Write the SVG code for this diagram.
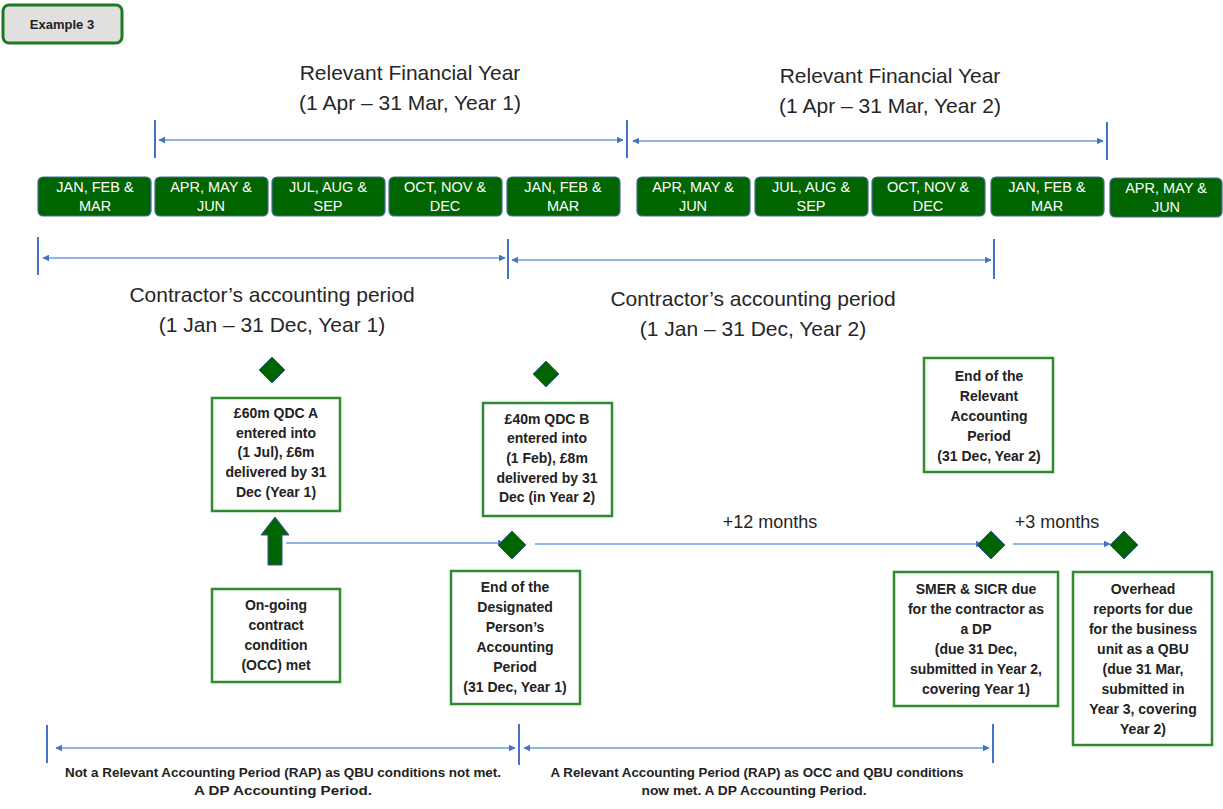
<svg xmlns="http://www.w3.org/2000/svg" width="1223" height="809" viewBox="0 0 1223 809">
<style>
  .title{font-family:"Liberation Sans",Arial,sans-serif;font-size:21px;fill:#262626;text-anchor:middle}
  .mon{font-family:"Liberation Sans",Arial,sans-serif;font-size:14.5px;fill:#fff;text-anchor:middle}
  .mbox{fill:#006400;stroke:#4a6a9a;stroke-width:1.2}
  .box{fill:#fff;stroke:#2e8b2e;stroke-width:2.5}
  .bt{font-family:"Liberation Sans",Arial,sans-serif;font-size:14px;font-weight:bold;fill:#222;text-anchor:middle}
  .dia{fill:#006400;stroke:#3a5f9a;stroke-width:1}
  .ln{stroke:#6f9be0;stroke-width:1.6;fill:none}
  .tick{stroke:#4472c4;stroke-width:2;fill:none}
  .small{font-family:"Liberation Sans",Arial,sans-serif;font-size:12px;font-weight:bold;fill:#222;text-anchor:middle}
  .lbl{font-family:"Liberation Sans",Arial,sans-serif;font-size:18px;fill:#262626;text-anchor:middle}
</style>
<defs>
  <marker id="ah" viewBox="0 0 10 10" refX="9" refY="5" markerWidth="7" markerHeight="7" orient="auto-start-reverse" markerUnits="userSpaceOnUse">
    <path d="M0,0 L10,5 L0,10 z" fill="#4472c4"/>
  </marker>
</defs>
<rect width="1223" height="809" fill="#fff"/>

<g id="example3">
  <rect x="3" y="5" width="119" height="38" rx="6" fill="#e0e0e0" stroke="#1e7a1e" stroke-width="3"/>
  <text x="62" y="29" font-family="Liberation Sans, Arial, sans-serif" font-size="13" font-weight="bold" fill="#222" text-anchor="middle">Example 3</text>
</g>

<g id="rfy1">
  <text class="title" x="410" y="80">Relevant Financial Year</text>
  <text class="title" x="410" y="110">(1 Apr – 31 Mar, Year 1)</text>
</g>
<g id="rfy2">
  <text class="title" x="890" y="83">Relevant Financial Year</text>
  <text class="title" x="890" y="113">(1 Apr – 31 Mar, Year 2)</text>
</g>

<g id="months">
  <g id="m1"><rect class="mbox" x="38" y="177" width="113" height="39" rx="5"/><text class="mon" x="95" y="192">JAN, FEB &amp;</text><text class="mon" x="95" y="211">MAR</text></g>
  <g id="m2"><rect class="mbox" x="155" y="177" width="113" height="39" rx="5"/><text class="mon" x="211" y="192">APR, MAY &amp;</text><text class="mon" x="211" y="211">JUN</text></g>
  <g id="m3"><rect class="mbox" x="272" y="177" width="113" height="39" rx="5"/><text class="mon" x="328" y="192">JUL, AUG &amp;</text><text class="mon" x="328" y="211">SEP</text></g>
  <g id="m4"><rect class="mbox" x="389" y="177" width="113" height="39" rx="5"/><text class="mon" x="445" y="192">OCT, NOV &amp;</text><text class="mon" x="445" y="211">DEC</text></g>
  <g id="m5"><rect class="mbox" x="507" y="177" width="113" height="39" rx="5"/><text class="mon" x="563" y="192">JAN, FEB &amp;</text><text class="mon" x="563" y="211">MAR</text></g>
  <g id="m6"><rect class="mbox" x="637" y="177" width="113" height="39" rx="5"/><text class="mon" x="693" y="192">APR, MAY &amp;</text><text class="mon" x="693" y="211">JUN</text></g>
  <g id="m7"><rect class="mbox" x="755" y="177" width="113" height="39" rx="5"/><text class="mon" x="811" y="192">JUL, AUG &amp;</text><text class="mon" x="811" y="211">SEP</text></g>
  <g id="m8"><rect class="mbox" x="872" y="177" width="113" height="39" rx="5"/><text class="mon" x="928" y="192">OCT, NOV &amp;</text><text class="mon" x="928" y="211">DEC</text></g>
  <g id="m9"><rect class="mbox" x="991" y="177" width="113" height="39" rx="5"/><text class="mon" x="1047" y="192">JAN, FEB &amp;</text><text class="mon" x="1047" y="211">MAR</text></g>
  <g id="m10"><rect class="mbox" x="1110" y="178" width="112" height="39" rx="5"/><text class="mon" x="1166" y="193">APR, MAY &amp;</text><text class="mon" x="1166" y="212">JUN</text></g>
</g>

<g id="cap1">
  <text class="title" x="272" y="302">Contractor’s accounting period</text>
  <text class="title" x="272" y="332">(1 Jan – 31 Dec, Year 1)</text>
</g>
<g id="cap2">
  <text class="title" x="753" y="306">Contractor’s accounting period</text>
  <text class="title" x="753" y="336">(1 Jan – 31 Dec, Year 2)</text>
</g>

<g id="connectors">
  <line class="tick" x1="155" y1="120" x2="155" y2="158"/>
  <line class="ln" x1="159" y1="140" x2="623" y2="140" marker-start="url(#ah)" marker-end="url(#ah)"/>
  <line class="tick" x1="627" y1="120" x2="627" y2="158"/>
  <line class="ln" x1="633" y1="141" x2="1103" y2="141" marker-start="url(#ah)" marker-end="url(#ah)"/>
  <line class="tick" x1="1107" y1="122" x2="1107" y2="160"/>
  <line class="tick" x1="38" y1="237" x2="38" y2="275"/>
  <line class="ln" x1="43" y1="258" x2="505" y2="258" marker-start="url(#ah)" marker-end="url(#ah)"/>
  <line class="tick" x1="508" y1="239" x2="508" y2="279"/>
  <line class="ln" x1="512" y1="260" x2="991" y2="260" marker-start="url(#ah)" marker-end="url(#ah)"/>
  <line class="tick" x1="994" y1="239" x2="994" y2="279"/>
  <line class="ln" x1="286" y1="543" x2="504" y2="543" marker-end="url(#ah)"/>
  <line class="ln" x1="535" y1="544" x2="982" y2="544" marker-end="url(#ah)"/>
  <line class="ln" x1="1013" y1="544" x2="1110" y2="544" marker-end="url(#ah)"/>
  <line class="tick" x1="47" y1="725" x2="47" y2="763"/>
  <line class="ln" x1="56" y1="748" x2="515" y2="748" marker-start="url(#ah)" marker-end="url(#ah)"/>
  <line class="tick" x1="519" y1="724" x2="519" y2="765"/>
  <line class="ln" x1="524" y1="748" x2="989" y2="748" marker-start="url(#ah)" marker-end="url(#ah)"/>
  <line class="tick" x1="993" y1="724" x2="993" y2="763"/>
  <path d="M275,517 L289,535 L282,535 L282,565 L268,565 L268,535 L261,535 Z" fill="#006400" stroke="#2f5597" stroke-width="1"/>
</g>

<g id="d1"><path class="dia" d="M272,357 L285,370 L272,383 L259,370 Z"/></g>
<g id="d2"><path class="dia" d="M546,361 L559,374 L546,387 L533,374 Z"/></g>
<g id="d3"><path class="dia" d="M512,531 L526,545 L512,559 L498,545 Z"/></g>
<g id="d4"><path class="dia" d="M991,531 L1005,545 L991,559 L977,545 Z"/></g>
<g id="d5"><path class="dia" d="M1124,531 L1138,545 L1124,559 L1110,545 Z"/></g>

<g id="qdcA">
  <rect class="box" x="212" y="398" width="128" height="113"/>
  <text class="bt" x="276" y="418">£60m QDC A</text>
  <text class="bt" x="276" y="438">entered into</text>
  <text class="bt" x="276" y="457">(1 Jul), £6m</text>
  <text class="bt" x="276" y="477">delivered by 31</text>
  <text class="bt" x="276" y="497">Dec (Year 1)</text>
</g>

<g id="qdcB">
  <rect class="box" x="483" y="403" width="129" height="113"/>
  <text class="bt" x="547" y="424">£40m QDC B</text>
  <text class="bt" x="547" y="443">entered into</text>
  <text class="bt" x="547" y="463">(1 Feb), £8m</text>
  <text class="bt" x="547" y="483">delivered by 31</text>
  <text class="bt" x="547" y="502">Dec (in Year 2)</text>
</g>

<g id="occ">
  <rect class="box" x="212" y="589" width="128" height="93"/>
  <text class="bt" x="276" y="610">On-going</text>
  <text class="bt" x="276" y="630">contract</text>
  <text class="bt" x="276" y="650">condition</text>
  <text class="bt" x="276" y="670">(OCC) met</text>
</g>

<g id="endDP">
  <rect class="box" x="451" y="571" width="129" height="133"/>
  <text class="bt" x="515" y="592">End of the</text>
  <text class="bt" x="515" y="612">Designated</text>
  <text class="bt" x="515" y="632">Person’s</text>
  <text class="bt" x="515" y="652">Accounting</text>
  <text class="bt" x="515" y="672">Period</text>
  <text class="bt" x="515" y="692">(31 Dec, Year 1)</text>
</g>

<g id="endRAP">
  <rect class="box" x="924" y="358" width="129" height="114"/>
  <text class="bt" x="989" y="381">End of the</text>
  <text class="bt" x="989" y="401">Relevant</text>
  <text class="bt" x="989" y="421">Accounting</text>
  <text class="bt" x="989" y="441">Period</text>
  <text class="bt" x="989" y="461">(31 Dec, Year 2)</text>
</g>

<g id="smer">
  <rect class="box" x="894" y="572" width="164" height="134"/>
  <text class="bt" x="976" y="594">SMER &amp; SICR due</text>
  <text class="bt" x="976" y="614">for the contractor as</text>
  <text class="bt" x="976" y="634">a DP</text>
  <text class="bt" x="976" y="654">(due 31 Dec,</text>
  <text class="bt" x="976" y="674">submitted in Year 2,</text>
  <text class="bt" x="976" y="694">covering Year 1)</text>
</g>

<g id="overhead">
  <rect class="box" x="1073" y="572" width="139" height="173"/>
  <text class="bt" x="1143" y="594">Overhead</text>
  <text class="bt" x="1143" y="614">reports for due</text>
  <text class="bt" x="1143" y="634">for the business</text>
  <text class="bt" x="1143" y="654">unit as a QBU</text>
  <text class="bt" x="1143" y="674">(due 31 Mar,</text>
  <text class="bt" x="1143" y="694">submitted in</text>
  <text class="bt" x="1143" y="714">Year 3, covering</text>
  <text class="bt" x="1143" y="734">Year 2)</text>
</g>

<g id="labels">
  <text class="lbl" x="770" y="528">+12 months</text>
  <text class="lbl" x="1057" y="528">+3 months</text>
</g>

<g id="bottomText">
  <text class="small" x="283" y="777" textLength="436" lengthAdjust="spacingAndGlyphs">Not a Relevant Accounting Period (RAP) as QBU conditions  not met.</text>
  <text class="small" x="283" y="795" textLength="178" lengthAdjust="spacingAndGlyphs">A DP Accounting Period.</text>
  <text class="small" x="757" y="777" textLength="413" lengthAdjust="spacingAndGlyphs">A Relevant Accounting Period (RAP) as OCC and QBU conditions</text>
  <text class="small" x="754" y="795" textLength="225" lengthAdjust="spacingAndGlyphs">now met. A DP Accounting Period.</text>
</g>
</svg>
